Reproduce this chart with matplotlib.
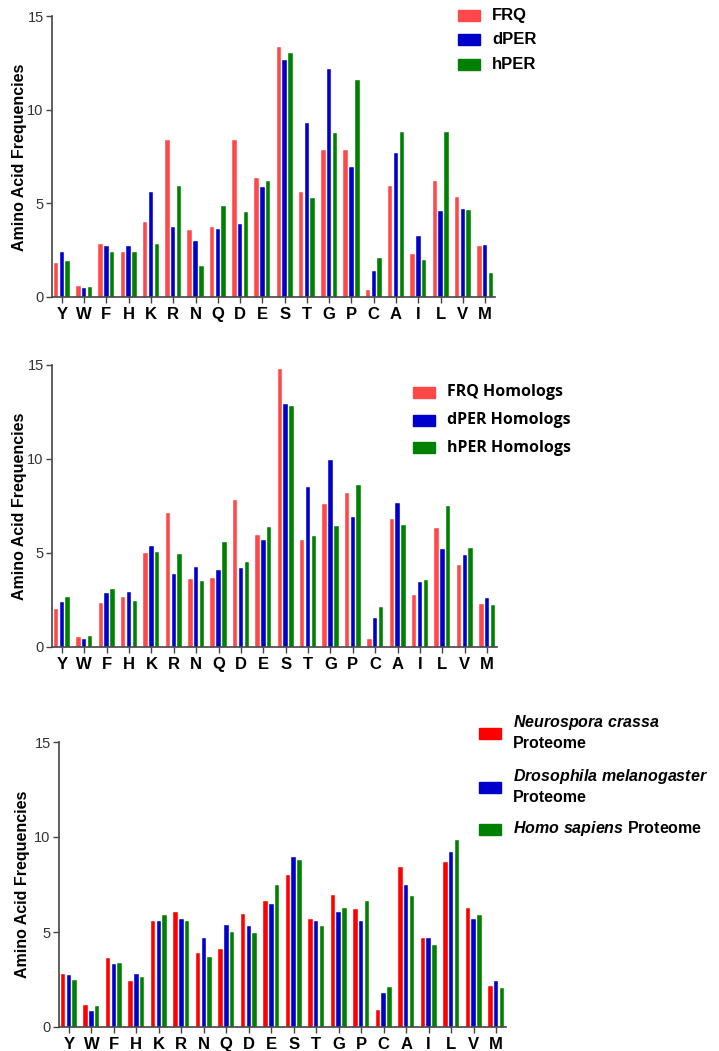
import matplotlib
matplotlib.use("Agg")
import matplotlib.pyplot as plt
import numpy as np
from matplotlib.patches import Rectangle

plt.rcParams['font.family'] = ['Liberation Sans', 'DejaVu Sans']
plt.rcParams['mathtext.fontset'] = 'custom'
plt.rcParams['mathtext.it'] = 'Liberation Sans:italic:bold'
plt.rcParams['mathtext.rm'] = 'Liberation Sans:bold'

W, H = 719, 1051

aa = ['Y', 'W', 'F', 'H', 'K', 'R', 'N', 'Q', 'D', 'E',
      'S', 'T', 'G', 'P', 'C', 'A', 'I', 'L', 'V', 'M']

# panel 1 - proteins
frq = [1.81, 0.60, 2.82, 2.39, 4.01, 8.39, 3.60, 3.71, 8.39, 6.35,
       13.33, 5.62, 7.84, 7.84, 0.35, 5.94, 2.27, 6.17, 5.32, 2.70]
dper = [2.39, 0.48, 2.70, 2.70, 5.62, 3.71, 3.00, 3.65, 3.88, 5.87,
        12.64, 9.29, 12.16, 6.95, 1.38, 7.71, 3.23, 4.61, 4.72, 2.80]
hper = [1.91, 0.55, 2.39, 2.39, 2.82, 5.94, 1.68, 4.84, 4.56, 6.17,
        13.00, 5.27, 8.74, 11.61, 2.06, 8.79, 1.99, 8.79, 4.66, 1.26]

# panel 2 - homologs
frq_h = [2.04, 0.55, 2.34, 2.64, 4.98, 7.15, 3.60, 3.65, 7.80, 5.94,
         14.80, 5.71, 7.62, 8.17, 0.44, 6.79, 2.77, 6.31, 4.34, 2.30]
dper_h = [2.41, 0.43, 2.89, 2.94, 5.39, 3.90, 4.26, 4.08, 4.22, 5.71,
          12.94, 8.53, 9.95, 6.90, 1.52, 7.68, 3.44, 5.23, 4.88, 2.61]
hper_h = [2.64, 0.60, 3.10, 2.46, 5.04, 4.93, 3.53, 5.57, 4.52, 6.37,
          12.82, 5.89, 6.42, 8.63, 2.13, 6.49, 3.55, 7.50, 5.28, 2.23]

# panel 3 - proteomes
ncr = [2.79, 1.16, 3.62, 2.43, 5.57, 6.06, 3.87, 4.11, 5.94, 6.63,
       8.01, 5.69, 6.96, 6.19, 0.91, 8.40, 4.69, 8.70, 6.26, 2.16]
dme = [2.74, 0.84, 3.30, 2.79, 5.57, 5.69, 4.69, 5.38, 5.31, 6.45,
       8.96, 5.57, 6.06, 5.57, 1.79, 7.45, 4.69, 9.21, 5.69, 2.43]
hsa = [2.50, 1.11, 3.36, 2.62, 5.87, 5.57, 3.67, 5.01, 4.94, 7.45,
       8.77, 5.33, 6.26, 6.63, 2.11, 6.89, 4.31, 9.84, 5.87, 2.06]

red1 = '#ff4848'
red3 = '#ff0000'
blue = '#0000cc'
green = '#008000'

fig = plt.figure(figsize=(W / 100, H / 100), dpi=100)


def px_axes(left, right, top, bottom):
    return fig.add_axes([left / W, (H - bottom) / H, (right - left) / W, (bottom - top) / H])


def draw_panel(ax, series, colors):
    x = np.arange(len(aa))
    offs = [-0.26, 0.0, 0.26]
    for vals, c, o in zip(series, colors, offs):
        ax.bar(x + o, vals, width=0.2, color=c, edgecolor='white', linewidth=0.3)
    ax.set_xlim(-0.44, 19.44)
    ax.set_ylim(0, 15)
    ax.set_yticks([0, 5, 10, 15])
    ax.set_xticks(x)
    ax.set_xticklabels(aa, fontsize=12, fontweight='bold')
    ax.tick_params(axis='y', labelsize=10.5, labelcolor='#333333', length=4, width=1, color='#444444', pad=2)
    ax.tick_params(axis='x', length=4, width=1, color='#444444', pad=3)
    for s in ['top', 'right']:
        ax.spines[s].set_visible(False)
    for s in ['left', 'bottom']:
        ax.spines[s].set_color('#444444')
        ax.spines[s].set_linewidth(1.2)


def legend_px(x, ys, colors, labels, tx, tys, **kw):
    for y, c in zip(ys, colors):
        fig.patches.append(Rectangle((x / W, (H - y - 5.5) / H), 22 / W, 11 / H,
                                     transform=fig.transFigure, color=c, figure=fig))
    for ty, lab in zip(tys, labels):
        fig.text(tx / W, (H - ty) / H, lab, va='center', ha='left', **kw)


ax1 = px_axes(52, 495, 16, 297)
draw_panel(ax1, [frq, dper, hper], [red1, blue, green])
ax2 = px_axes(52, 497, 365, 647)
draw_panel(ax2, [frq_h, dper_h, hper_h], [red1, blue, green])
ax3 = px_axes(59, 506, 742, 1027)
draw_panel(ax3, [ncr, dme, hsa], [red3, blue, green])

for yc, xc in [(157, 20), (506, 20), (884, 23)]:
    fig.text(xc / W, (H - yc) / H, 'Amino Acid Frequencies', rotation=90,
             ha='center', va='center', fontsize=11.5, fontweight='bold')

legend_px(458, [15.5, 39.5, 64.5], [red1, blue, green], ['FRQ', 'dPER', 'hPER'],
          492, [15.5, 39.5, 64.5], fontsize=12, fontweight='bold')

legend_px(413, [392.5, 420, 447.5], [red1, blue, green],
          ['FRQ Homologs', 'dPER Homologs', 'hPER Homologs'],
          447, [392.5, 420, 447.5], fontsize=11.5, fontweight='bold',
          family=['Open Sans', 'DejaVu Sans'])

legend_px(479, [733, 787, 829.5], [red3, blue, green],
          [r'$\mathit{Neurospora\ crassa}$', 'Proteome',
           r'$\mathit{Drosophila\ melanogaster}$', 'Proteome',
           r'$\mathit{Homo\ sapiens}$ Proteome'],
          513, [723, 743, 777, 797, 829], fontsize=11.5, fontweight='bold')

fig.savefig('out.png', dpi=100)
